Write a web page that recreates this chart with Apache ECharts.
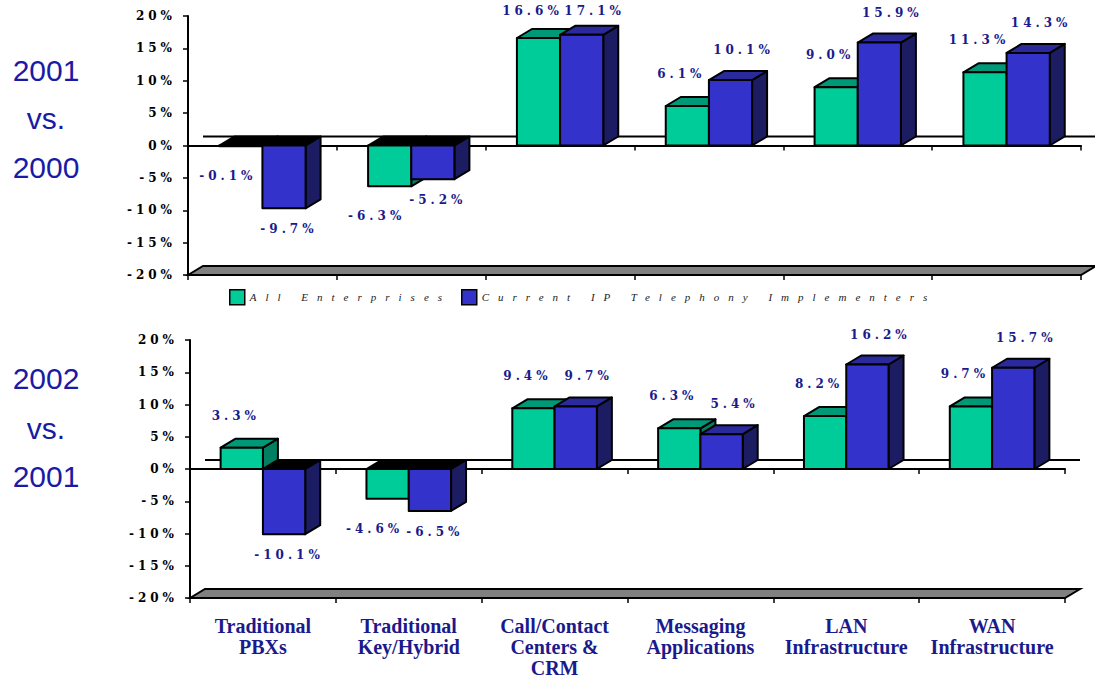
<!DOCTYPE html>
<html>
<head>
<meta charset="utf-8">
<script src="https://cdn.jsdelivr.net/npm/echarts@6/dist/echarts.min.js"></script>
<style>
  html, body { margin: 0; padding: 0; background: #fff; }
  #chart { width: 1095px; height: 679px; }
  /* the old slide uses very wide tracking on numbers and legend */
  #chart text[style*="DejaVu Serif"] { letter-spacing: 4px; }
  #chart text[style*="italic"] { letter-spacing: 9px; }
</style>
</head>
<body>
<div id="chart"></div>
<script>
const categories = ['Traditional\nPBXs', 'Traditional\nKey/Hybrid', 'Call/Contact\nCenters &\nCRM',
  'Messaging\nApplications', 'LAN\nInfrastructure', 'WAN\nInfrastructure'];
const seriesNames = ['All Enterprises', 'Current IP Telephony Implementers'];
const allEnterprises2001 = [-0.1, -6.3, 16.6, 6.1, 9.0, 11.3];
const ipImplementers2001 = [-9.7, -5.2, 17.1, 10.1, 15.9, 14.3];
const allEnterprises2002 = [3.3, -4.6, 9.4, 6.3, 8.2, 9.7];
const ipImplementers2002 = [-10.1, -6.5, 9.7, 5.4, 16.2, 15.7];
const panelTitles = [['2001', 'vs.', '2000'], ['2002', 'vs.', '2001']];
const yMin = -20, yMax = 20, yStep = 5;

const frontColors = ['#00cc99', '#3333cc'];
const topColors = ['#009977', '#2a2a9c'];
const sideColors = ['#007f63', '#1c1c62'];
const navy = '#1a1a8c';
const depthX = 15, depthY = -9;
// label nudges per series: [x above, x below, gap above, gap below]
const labelNudge = [[-6, -13, 32, 30], [13, 5, 30, 21]];

const chart = echarts.init(document.getElementById('chart'), null, { renderer: 'svg' });

// one 3d-looking bar: front rect, top face, side face and its label
function barItem(k) {
  return function (params, api) {
    const idx = api.value(0);
    const val = api.value(1);
    const band = api.size([1, 0])[0];
    const w = band * 0.29;
    const base = api.coord([idx, 0]);
    const end = api.coord([idx, val]);
    const x = k === 0 ? base[0] - w : base[0];
    const yt = Math.min(base[1], end[1]);
    const yb = Math.max(base[1], end[1]);
    const neg = val < 0;
    const edge = { stroke: '#000', lineWidth: 2, lineJoin: 'round' };
    const side = [[x + w, yt], [x + w + depthX, yt + depthY], [x + w + depthX, yb + depthY], [x + w, yb]];
    const top = [[x, yt], [x + depthX, yt + depthY], [x + w + depthX, yt + depthY], [x + w, yt]];
    const nd = labelNudge[k];
    let lx, ly;
    if (neg) {
      lx = x + w / 2 + nd[1];
      ly = yb + nd[3];
    } else {
      lx = x + w / 2 + nd[0];
      ly = Math.max(yt - nd[2], 11);
    }
    return {
      type: 'group',
      children: [
        { type: 'polygon', shape: { points: side }, style: Object.assign({ fill: sideColors[k] }, edge) },
        { type: 'polygon', shape: { points: top }, style: Object.assign({ fill: neg ? '#000' : topColors[k] }, edge) },
        { type: 'rect', shape: { x: x, y: yt, width: w, height: yb - yt }, style: Object.assign({ fill: frontColors[k] }, edge) },
        {
          type: 'text', z2: 100,
          style: {
            text: val.toFixed(1) + '%', x: lx, y: ly,
            fill: navy, font: 'bold 12px "DejaVu Serif"', align: 'center', verticalAlign: 'middle'
          }
        }
      ]
    };
  };
}

// floor under the plot and the zero line on the back wall
function decorItem(params, api) {
  const cs = params.coordSys;
  const z0 = api.coord([0, 0])[1];
  const yb = api.coord([0, yMin])[1];
  const x0 = cs.x, x1 = cs.x + cs.width;
  return {
    type: 'group',
    children: [
      { type: 'line', shape: { x1: x0 + depthX, y1: z0 + depthY, x2: x1 + depthX, y2: z0 + depthY },
        style: { stroke: '#000', lineWidth: 2 } },
      { type: 'polygon', shape: { points: [[x0, yb], [x0 + depthX, yb + depthY], [x1 + depthX, yb + depthY], [x1, yb]] },
        style: { fill: '#808080', stroke: '#000', lineWidth: 2 } }
    ]
  };
}

function yAxisFor(g) {
  return {
    gridIndex: g, type: 'value', min: yMin, max: yMax, interval: yStep,
    axisLine: { show: true, onZero: false, lineStyle: { color: '#000', width: 2 } },
    axisTick: { show: true, length: 5, lineStyle: { color: '#000', width: 1.5 } },
    splitLine: { show: false },
    axisLabel: {
      formatter: '{value}%', margin: 12, color: '#000',
      fontFamily: 'DejaVu Serif', fontWeight: 'bold', fontSize: 12
    }
  };
}

function zeroAxis(g) {
  return {
    gridIndex: g, type: 'category', data: categories, position: 'bottom',
    axisLine: { onZero: true, lineStyle: { color: '#000', width: 2 } },
    axisTick: { show: true, interval: 0, length: 5, lineStyle: { color: '#000', width: 1.5 } },
    axisLabel: { show: false }
  };
}

function floorAxis(g, labels) {
  return {
    gridIndex: g, type: 'category', data: categories, position: 'bottom',
    axisLine: { onZero: false, lineStyle: { color: '#000', width: 2 } },
    axisTick: { show: true, interval: 0, length: 5, lineStyle: { color: '#000', width: 1.5 } },
    axisLabel: {
      show: labels, interval: 0, margin: 17, color: navy,
      fontFamily: 'Liberation Serif', fontWeight: 'bold', fontSize: 20, lineHeight: 21
    }
  };
}

function barSeries(k, values, xi, yi) {
  return {
    type: 'custom', name: seriesNames[k], xAxisIndex: xi, yAxisIndex: yi,
    itemStyle: { color: frontColors[k] },
    data: values.map((v, i) => [i, v]),
    encode: { x: 0, y: 1 },
    renderItem: barItem(k),
    animation: false
  };
}

function decorSeries(xi, yi) {
  return {
    type: 'custom', xAxisIndex: xi, yAxisIndex: yi, z: 1, silent: true,
    data: [[0, 0]], encode: { x: 0, y: 1 },
    renderItem: decorItem, animation: false
  };
}

const titleTexts = [];
const titleRows = [[70, 118, 167], [378, 428, 476]];
panelTitles.forEach((words, p) => {
  words.forEach((t, j) => {
    titleTexts.push({
      type: 'text', x: 46, y: titleRows[p][j],
      style: { text: t, fill: '#1a1aa6', font: '30px "Liberation Sans"', align: 'center', verticalAlign: 'middle' }
    });
  });
});

const legendText = { fontFamily: 'Liberation Serif', fontStyle: 'italic', fontSize: 11, color: '#222' };
const legendIcon = { borderColor: '#000', borderWidth: 1.5 };

chart.setOption({
  backgroundColor: '#fff',
  animation: false,
  grid: [
    { left: 188, top: 16, width: 893, height: 259, outerBoundsMode: 'none' },
    { left: 190, top: 340, width: 875, height: 258, outerBoundsMode: 'none' }
  ],
  legend: [
    { data: [seriesNames[0]], left: 229, top: 289, padding: 0, icon: 'rect', itemWidth: 15, itemHeight: 15,
      selectedMode: false, itemStyle: legendIcon, textStyle: legendText },
    { data: [seriesNames[1]], left: 461, top: 289, padding: 0, icon: 'rect', itemWidth: 15, itemHeight: 15,
      selectedMode: false, itemStyle: legendIcon, textStyle: legendText }
  ],
  xAxis: [zeroAxis(0), floorAxis(0, false), zeroAxis(1), floorAxis(1, true)],
  yAxis: [yAxisFor(0), yAxisFor(1)],
  graphic: titleTexts,
  series: [
    decorSeries(0, 0),
    barSeries(0, allEnterprises2001, 0, 0),
    barSeries(1, ipImplementers2001, 0, 0),
    decorSeries(2, 1),
    barSeries(0, allEnterprises2002, 2, 1),
    barSeries(1, ipImplementers2002, 2, 1)
  ]
});
</script>
</body>
</html>
